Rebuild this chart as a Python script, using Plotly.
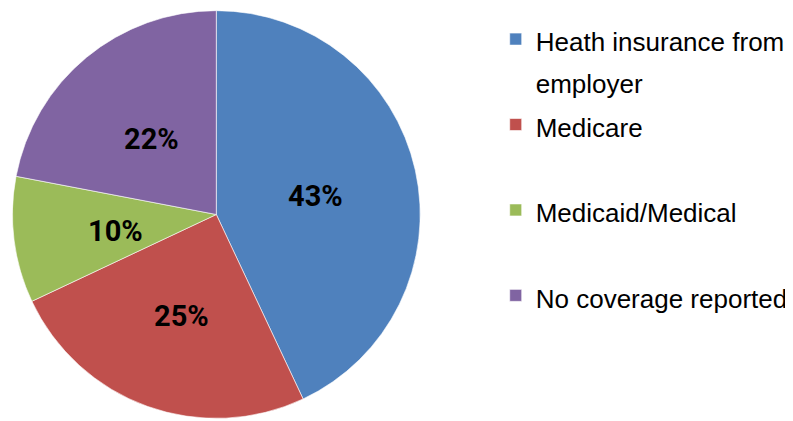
import math
import plotly.graph_objects as go

categories = ["Heath insurance from<br>employer", "Medicare<br> ", "Medicaid/Medical<br> ", "No coverage reported"]
values = [43, 25, 10, 22]
colors = ["#4F81BD", "#C0504D", "#9BBB59", "#8064A2"]

# page body has an 8px margin; size figure to fill the rest of the window
W, H = 785, 413
cx, cy, r = 211, 206.5, 206.5

legend_font = 26
def styled(name):
    return "<br>".join(f"<span style='font-size:{legend_font}px'>{p}</span>" if p.strip() else p
                       for p in name.split("<br>"))

fig = go.Figure(go.Pie(
    labels=[styled(c) for c in categories],
    values=values,
    sort=False,
    direction="clockwise",
    rotation=0,
    marker=dict(colors=colors, line=dict(color="white", width=0.6)),
    textinfo="none",
    hoverinfo="label+percent",
    domain=dict(x=[(cx - r) / W, (cx + r) / W], y=[(H - cy - r) / H, (H - cy + r) / H]),
))

# data labels at the middle of each slice, half way out along its bisector
total = sum(values)
cum = 0
annotations = []
for v in values:
    mid = (cum + v / 2) / total * 2 * math.pi
    cum += v
    px = cx + 0.5 * r * math.sin(mid)
    py = cy - 0.5 * r * math.cos(mid)
    annotations.append(dict(
        x=px / W, y=1 - py / H, xref="paper", yref="paper",
        text=f"{round(v / total * 100)}%", showarrow=False,
        xanchor="center", yanchor="middle", yshift=-4,
        font=dict(family="Roboto", size=29, color="black", weight="bold"),
    ))

fig.update_layout(
    width=W, height=H,
    margin=dict(l=0, r=0, t=0, b=0),
    paper_bgcolor="white",
    plot_bgcolor="white",
    showlegend=True,
    annotations=annotations,
    legend=dict(
        x=494 / W, y=1 - 4 / H, xanchor="left", yanchor="top",
        valign="top",
        font=dict(family="Liberation Sans", size=31.7, color="black"),
        bgcolor="rgba(0,0,0,0)",
    ),
)

fig.write_html("out.html")
